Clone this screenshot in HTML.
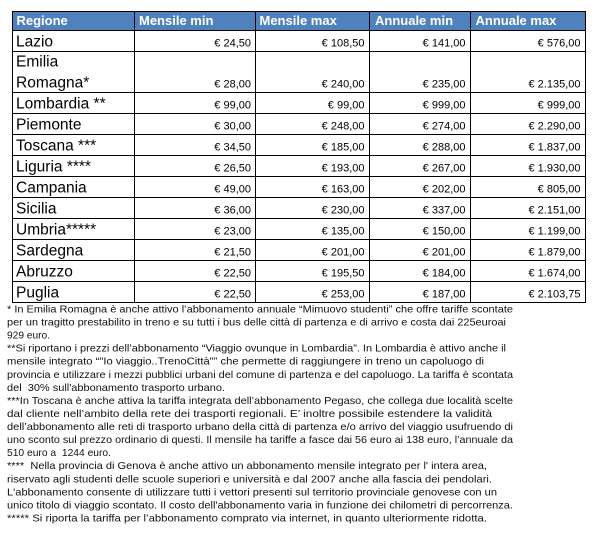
<!DOCTYPE html>
<html>
<head>
<meta charset="utf-8">
<style>
  html, body { margin: 0; padding: 0; background: #fff; }
  svg { display: block; }
  text { font-family: "Liberation Sans", Arial, sans-serif; }
  .h { font-size: 13px; font-weight: bold; fill: #fff; }
  .r { font-size: 15.5px; fill: #000; }
  .v { font-size: 11px; fill: #000; text-anchor: end; }
  .f { font-size: 10.5px; fill: #111; white-space: pre; }
</style>
</head>
<body>
<svg width="600" height="546" viewBox="0 0 600 546" xmlns="http://www.w3.org/2000/svg" xml:space="preserve">
  <rect x="0" y="0" width="600" height="546" fill="#fff"/>
  <!-- header background -->
  <rect x="12" y="11" width="573" height="19" fill="#4F81BD"/>

  <!-- grid lines -->
  <g stroke="#000" stroke-width="1.2" shape-rendering="crispEdges">
    <line x1="12" y1="11.5" x2="585.5" y2="11.5"/>
    <line x1="12" y1="30.5" x2="585.5" y2="30.5"/>
    <line x1="12" y1="51.5" x2="585.5" y2="51.5"/>
    <line x1="12" y1="92.5" x2="585.5" y2="92.5"/>
    <line x1="12" y1="113.5" x2="585.5" y2="113.5"/>
    <line x1="12" y1="134.5" x2="585.5" y2="134.5"/>
    <line x1="12" y1="155.5" x2="585.5" y2="155.5"/>
    <line x1="12" y1="176.5" x2="585.5" y2="176.5"/>
    <line x1="12" y1="197.5" x2="585.5" y2="197.5"/>
    <line x1="12" y1="218.5" x2="585.5" y2="218.5"/>
    <line x1="12" y1="239.5" x2="585.5" y2="239.5"/>
    <line x1="12" y1="260.5" x2="585.5" y2="260.5"/>
    <line x1="12" y1="281.5" x2="585.5" y2="281.5"/>
    <line x1="12" y1="302.5" x2="585.5" y2="302.5"/>

    <line x1="12.5" y1="11" x2="12.5" y2="303"/>
    <line x1="134.5" y1="11" x2="134.5" y2="303"/>
    <line x1="255.5" y1="11" x2="255.5" y2="303"/>
    <line x1="369.5" y1="11" x2="369.5" y2="303"/>
    <line x1="470.5" y1="11" x2="470.5" y2="303"/>
    <line x1="585.5" y1="11" x2="585.5" y2="303"/>
  </g>

  <!-- header text -->
  <text class="h" x="16.5" y="25">Regione</text>
  <text class="h" x="139" y="25">Mensile min</text>
  <text class="h" x="259.5" y="25">Mensile max</text>
  <text class="h" x="375" y="25">Annuale min</text>
  <text class="h" x="475.5" y="25">Annuale max</text>

  <!-- region names -->
  <text class="r" x="16" y="46.5">Lazio</text>
  <text class="r" x="16" y="66.5">Emilia</text>
  <text class="r" x="16" y="87.5">Romagna*</text>
  <text class="r" x="16" y="108.5">Lombardia **</text>
  <text class="r" x="16" y="129.5">Piemonte</text>
  <text class="r" x="16" y="150.5">Toscana ***</text>
  <text class="r" x="16" y="171.5">Liguria ****</text>
  <text class="r" x="16" y="192.5">Campania</text>
  <text class="r" x="16" y="213.5">Sicilia</text>
  <text class="r" x="16" y="234.5">Umbria*****</text>
  <text class="r" x="16" y="255.5">Sardegna</text>
  <text class="r" x="16" y="276.5">Abruzzo</text>
  <text class="r" x="16" y="297.5">Puglia</text>

  <!-- Mensile min -->
  <text class="v" x="251" y="46.5">€ 24,50</text>
  <text class="v" x="251" y="87.5">€ 28,00</text>
  <text class="v" x="251" y="108.5">€ 99,00</text>
  <text class="v" x="251" y="129.5">€ 30,00</text>
  <text class="v" x="251" y="150.5">€ 34,50</text>
  <text class="v" x="251" y="171.5">€ 26,50</text>
  <text class="v" x="251" y="192.5">€ 49,00</text>
  <text class="v" x="251" y="213.5">€ 36,00</text>
  <text class="v" x="251" y="234.5">€ 23,00</text>
  <text class="v" x="251" y="255.5">€ 21,50</text>
  <text class="v" x="251" y="276.5">€ 22,50</text>
  <text class="v" x="251" y="297.5">€ 22,50</text>

  <!-- Mensile max -->
  <text class="v" x="364.5" y="46.5">€ 108,50</text>
  <text class="v" x="364.5" y="87.5">€ 240,00</text>
  <text class="v" x="364.5" y="108.5">€ 99,00</text>
  <text class="v" x="364.5" y="129.5">€ 248,00</text>
  <text class="v" x="364.5" y="150.5">€ 185,00</text>
  <text class="v" x="364.5" y="171.5">€ 193,00</text>
  <text class="v" x="364.5" y="192.5">€ 163,00</text>
  <text class="v" x="364.5" y="213.5">€ 230,00</text>
  <text class="v" x="364.5" y="234.5">€ 135,00</text>
  <text class="v" x="364.5" y="255.5">€ 201,00</text>
  <text class="v" x="364.5" y="276.5">€ 195,50</text>
  <text class="v" x="364.5" y="297.5">€ 253,00</text>

  <!-- Annuale min -->
  <text class="v" x="465.5" y="46.5">€ 141,00</text>
  <text class="v" x="465.5" y="87.5">€ 235,00</text>
  <text class="v" x="465.5" y="108.5">€ 999,00</text>
  <text class="v" x="465.5" y="129.5">€ 274,00</text>
  <text class="v" x="465.5" y="150.5">€ 288,00</text>
  <text class="v" x="465.5" y="171.5">€ 267,00</text>
  <text class="v" x="465.5" y="192.5">€ 202,00</text>
  <text class="v" x="465.5" y="213.5">€ 337,00</text>
  <text class="v" x="465.5" y="234.5">€ 150,00</text>
  <text class="v" x="465.5" y="255.5">€ 201,00</text>
  <text class="v" x="465.5" y="276.5">€ 184,00</text>
  <text class="v" x="465.5" y="297.5">€ 187,00</text>

  <!-- Annuale max -->
  <text class="v" x="580.5" y="46.5">€ 576,00</text>
  <text class="v" x="580.5" y="87.5">€ 2.135,00</text>
  <text class="v" x="580.5" y="108.5">€ 999,00</text>
  <text class="v" x="580.5" y="129.5">€ 2.290,00</text>
  <text class="v" x="580.5" y="150.5">€ 1.837,00</text>
  <text class="v" x="580.5" y="171.5">€ 1.930,00</text>
  <text class="v" x="580.5" y="192.5">€ 805,00</text>
  <text class="v" x="580.5" y="213.5">€ 2.151,00</text>
  <text class="v" x="580.5" y="234.5">€ 1.199,00</text>
  <text class="v" x="580.5" y="255.5">€ 1.879,00</text>
  <text class="v" x="580.5" y="276.5">€ 1.674,00</text>
  <text class="v" x="580.5" y="297.5">€ 2.103,75</text>

  <!-- footnotes -->
  <g class="fn">
    <text class="f" x="7" y="312.5" textLength="506" lengthAdjust="spacingAndGlyphs">* In Emilia Romagna è anche attivo l’abbonamento annuale “Mimuovo studenti” che offre tariffe scontate</text>
    <text class="f" x="7" y="325.6" textLength="499" lengthAdjust="spacingAndGlyphs">per un tragitto prestabilito in treno e su tutti i bus delle città di partenza e di arrivo e costa dai 225euroai</text>
    <text class="f" x="7" y="338.6" textLength="43" lengthAdjust="spacingAndGlyphs">929 euro.</text>
    <text class="f" x="7" y="351.7" textLength="499" lengthAdjust="spacingAndGlyphs">**Si riportano i prezzi dell’abbonamento “Viaggio ovunque in Lombardia”. In Lombardia è attivo anche il</text>
    <text class="f" x="7" y="364.7" textLength="477" lengthAdjust="spacingAndGlyphs">mensile integrato “"Io viaggio..TrenoCittà"” che permette di raggiungere in treno un capoluogo di</text>
    <text class="f" x="7" y="377.8" textLength="506" lengthAdjust="spacingAndGlyphs">provincia e utilizzare i mezzi pubblici urbani del comune di partenza e del capoluogo. La tariffa è scontata</text>
    <text class="f" x="7" y="390.9" textLength="218" lengthAdjust="spacingAndGlyphs">del  30% sull'abbonamento trasporto urbano.</text>
    <text class="f" x="7" y="403.9" textLength="506" lengthAdjust="spacingAndGlyphs">***In Toscana è anche attiva la tariffa integrata dell’abbonamento Pegaso, che collega due località scelte</text>
    <text class="f" x="7" y="417.0" textLength="485" lengthAdjust="spacingAndGlyphs">dal cliente nell’ambito della rete dei trasporti regionali. E’ inoltre possibile estendere la validità</text>
    <text class="f" x="7" y="430.0" textLength="506" lengthAdjust="spacingAndGlyphs">dell’abbonamento alle reti di trasporto urbano della città di partenza e/o arrivo del viaggio usufruendo di</text>
    <text class="f" x="7" y="443.1" textLength="506" lengthAdjust="spacingAndGlyphs">uno sconto sul prezzo ordinario di questi. Il mensile ha tariffe a fasce dai 56 euro ai 138 euro, l’annuale da</text>
    <text class="f" x="7" y="456.2" textLength="104" lengthAdjust="spacingAndGlyphs">510 euro a  1244 euro.</text>
    <text class="f" x="7" y="469.2" textLength="480" lengthAdjust="spacingAndGlyphs">****  Nella provincia di Genova è anche attivo un abbonamento mensile integrato per l' intera area,</text>
    <text class="f" x="7" y="482.3" textLength="485" lengthAdjust="spacingAndGlyphs">riservato agli studenti delle scuole superiori e università e dal 2007 anche alla fascia dei pendolari.</text>
    <text class="f" x="7" y="495.3" textLength="490" lengthAdjust="spacingAndGlyphs">L'abbonamento consente di utilizzare tutti i vettori presenti sul territorio provinciale genovese con un</text>
    <text class="f" x="7" y="508.4" textLength="506" lengthAdjust="spacingAndGlyphs">unico titolo di viaggio scontato. Il costo dell'abbonamento varia in funzione dei chilometri di percorrenza.</text>
    <text class="f" x="7" y="521.5" textLength="480" lengthAdjust="spacingAndGlyphs">***** Si riporta la tariffa per l’abbonamento comprato via internet, in quanto ulteriormente ridotta.</text>
  </g>
</svg>
</body>
</html>
